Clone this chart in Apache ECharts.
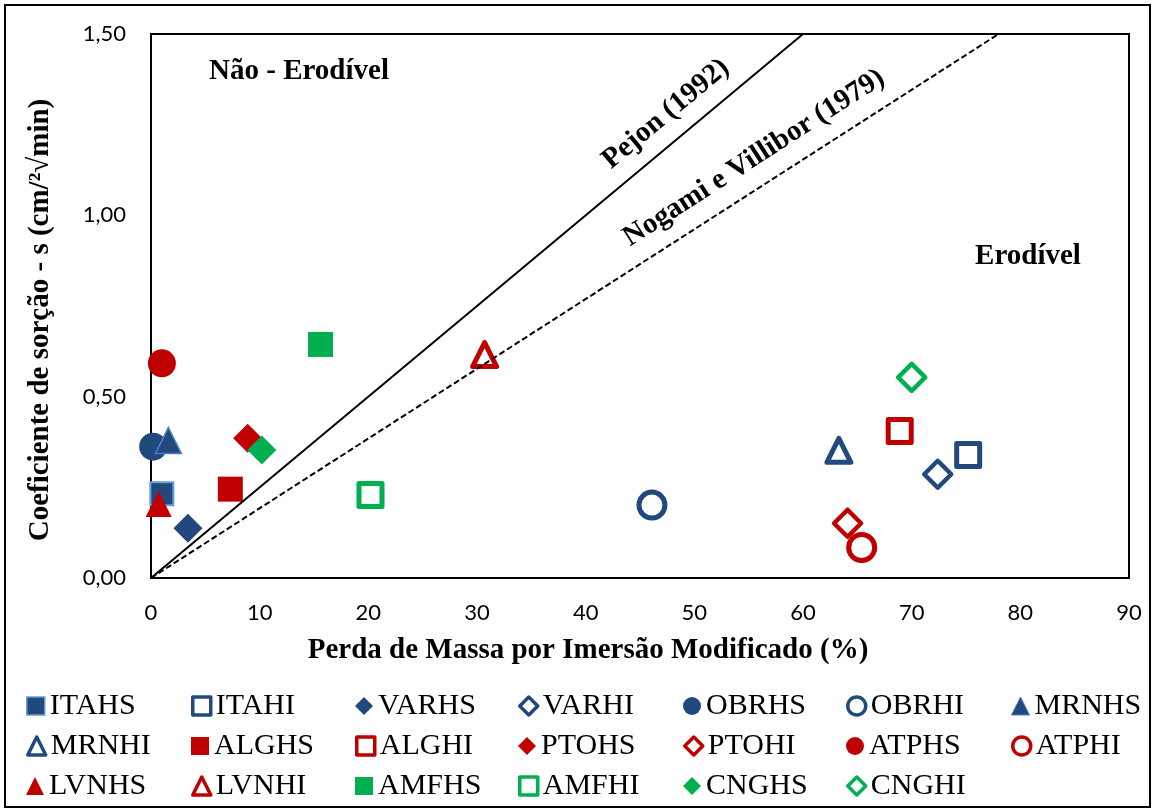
<!DOCTYPE html>
<html>
<head>
<meta charset="utf-8">
<script src="https://cdn.jsdelivr.net/npm/echarts@6/dist/echarts.min.js"></script>
<style>
  html, body { margin: 0; padding: 0; background: #fff; }
  #chart { width: 1155px; height: 812px; }
</style>
</head>
<body>
<div id="chart"></div>
<script>
// sample codes, in legend order (row by row)
const sampleNames = ['ITAHS', 'ITAHI', 'VARHS', 'VARHI', 'OBRHS', 'OBRHI', 'MRNHS',
  'MRNHI', 'ALGHS', 'ALGHI', 'PTOHS', 'PTOHI', 'ATPHS', 'ATPHI',
  'LVNHS', 'LVNHI', 'AMFHS', 'AMFHI', 'CNGHS', 'CNGHI']
// Perda de Massa por Imersão Modificado (%)
const massLoss = [1.0, 75.2, 3.4, 72.4, 0.2, 46.1, 1.6,
  63.3, 7.3, 68.9, 8.9, 64.1, 1.0, 65.4,
  0.7, 30.7, 15.6, 20.2, 10.2, 70.0]
// Coeficiente de sorção - s
const sorption = [0.232, 0.339, 0.137, 0.286, 0.362, 0.201, 0.379,
  0.352, 0.245, 0.405, 0.385, 0.151, 0.592, 0.084,
  0.204, 0.616, 0.644, 0.229, 0.353, 0.553]
// criteria lines (end points)
const pejonLine = [[0, 0], [60, 1.5]]
const nogamiLine = [[0, 0], [78, 1.5]]

const BLUE = '#22497D'
const RED = '#C00000'
const GREEN = '#00B050'
const SERIF = '"Liberation Serif", "Times New Roman", serif'
const SANS = 'Lato, "Open Sans", sans-serif'

const siteStyle = {
  ITA: ['rect', BLUE], VAR: ['diamond', BLUE], OBR: ['circle', BLUE], MRN: ['triangle', BLUE],
  ALG: ['rect', RED], PTO: ['diamond', RED], ATP: ['circle', RED], LVN: ['triangle', RED],
  AMF: ['rect', GREEN], CNG: ['diamond', GREEN]
}
const filledSize = { rect: 25, circle: 28, diamond: 29, triangle: 26 }
const openSize = { rect: 23, circle: 26, diamond: 27, triangle: 24 }

const styleOf = (name) => {
  const [shape, color] = siteStyle[name.slice(0, 3)]
  const open = name.endsWith('HI')
  let itemStyle, legendStyle, size
  if (open) {
    size = openSize[shape]
    itemStyle = { color: '#fff', borderColor: color, borderWidth: shape === 'diamond' ? 4.5 : 5, borderJoin: 'round', opacity: 1 }
    legendStyle = { color: '#fff', borderColor: color, borderWidth: 3.5, borderJoin: 'round' }
  } else {
    size = filledSize[shape]
    itemStyle = { color: color, borderWidth: 0, opacity: 1 }
    legendStyle = { color: color, borderWidth: 0 }
    if (name === 'ITAHS') {
      size = 23
      itemStyle = { color: color, borderColor: '#6C9BD8', borderWidth: 2, opacity: 1 }
      legendStyle = { color: color, borderColor: '#6C9BD8', borderWidth: 1.5 }
    }
    if (name === 'MRNHS') {
      itemStyle = { color: color, borderColor: '#4A7EBB', borderWidth: 1.5, opacity: 1 }
      legendStyle = { color: color, borderColor: '#4A7EBB', borderWidth: 1 }
    }
  }
  return { shape, size, itemStyle, legendStyle }
}

const colX = [35, 200, 364, 527, 692, 855, 1020]
const rowY = [706, 746, 786]

const legends = sampleNames.map((name, i) => {
  const st = styleOf(name)
  return {
    data: [name],
    left: colX[i % 7] - 9,
    top: rowY[Math.floor(i / 7)] - 15,
    padding: 0,
    itemGap: 0,
    itemWidth: 18,
    itemHeight: 18,
    itemStyle: st.legendStyle,
    textStyle: { fontFamily: SERIF, fontSize: 30, color: '#000' }
  }
})

const scatterSeries = sampleNames.map((name, i) => {
  const st = styleOf(name)
  return {
    name: name,
    type: 'scatter',
    symbol: st.shape,
    symbolSize: st.size,
    itemStyle: st.itemStyle,
    emphasis: { disabled: true },
    data: [[massLoss[i], sorption[i]]]
  }
})

const chart = echarts.init(document.getElementById('chart'))
chart.setOption({
  animation: false,
  backgroundColor: '#fff',
  grid: {
    left: 151, right: 26, top: 34, bottom: 234,
    show: true, borderColor: '#000', borderWidth: 2,
    outerBoundsMode: 'none'
  },
  legend: legends,
  xAxis: {
    type: 'value', min: 0, max: 90, interval: 10,
    name: 'Perda de Massa por Imersão Modificado (%)',
    nameLocation: 'middle', nameGap: 58,
    nameTextStyle: { fontFamily: SERIF, fontSize: 29, fontWeight: 'bold', color: '#000', padding: [0, 104, 0, 0] },
    axisLine: { lineStyle: { color: '#000', width: 2 } },
    axisTick: { show: false },
    splitLine: { show: false },
    axisLabel: { fontFamily: SANS, fontSize: 22, color: '#000', margin: 24 }
  },
  yAxis: {
    type: 'value', min: 0, max: 1.5, interval: 0.5,
    name: 'Coeficiente de sorção - s (cm/²√min)',
    nameLocation: 'middle', nameGap: 96, nameRotate: 90,
    nameTextStyle: { fontFamily: SERIF, fontSize: 29, fontWeight: 'bold', color: '#000', padding: [0, 28, 0, 0] },
    axisLine: { show: true, lineStyle: { color: '#000', width: 2 } },
    axisTick: { show: false },
    splitLine: { show: false },
    axisLabel: {
      fontFamily: SANS, fontSize: 22, color: '#000', margin: 25,
      formatter: (v) => v.toFixed(2).replace('.', ',')
    }
  },
  series: [
    {
      name: 'Pejon (1992)', type: 'line', data: pejonLine, symbol: 'none', silent: true,
      lineStyle: { color: '#000', width: 2 }
    },
    {
      name: 'Nogami e Villibor (1979)', type: 'line', data: nogamiLine, symbol: 'none', silent: true,
      lineStyle: { color: '#000', width: 2, type: [6, 3] }
    }
  ].concat(scatterSeries),
  graphic: [
    {
      type: 'rect', silent: true,
      shape: { x: 5, y: 5, width: 1145, height: 802 },
      style: { fill: 'transparent', stroke: '#000', lineWidth: 2 }
    },
    {
      type: 'text', x: 299, y: 72,
      style: { text: 'Não - Erodível', font: 'bold 29px ' + SERIF, fill: '#000', align: 'center', verticalAlign: 'middle', textAlign: 'center', textVerticalAlign: 'middle' }
    },
    {
      type: 'text', x: 1028, y: 257,
      style: { text: 'Erodível', font: 'bold 29px ' + SERIF, fill: '#000', align: 'center', verticalAlign: 'middle', textAlign: 'center', textVerticalAlign: 'middle' }
    },
    {
      type: 'text', x: 666, y: 114, rotation: 0.695,
      style: { text: 'Pejon (1992)', font: 'bold 29px ' + SERIF, fill: '#000', align: 'center', verticalAlign: 'middle', textAlign: 'center', textVerticalAlign: 'middle' }
    },
    {
      type: 'text', x: 754, y: 158, rotation: 0.571,
      style: { text: 'Nogami e Villibor (1979)', font: 'bold 29px ' + SERIF, fill: '#000', align: 'center', verticalAlign: 'middle', textAlign: 'center', textVerticalAlign: 'middle' }
    }
  ]
})
</script>
</body>
</html>
